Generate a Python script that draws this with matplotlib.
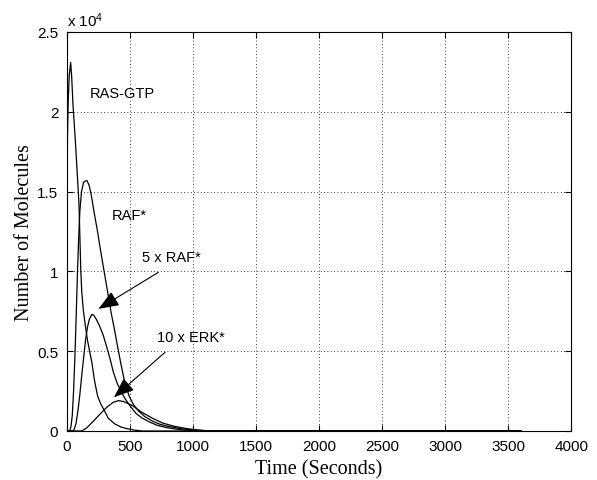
import matplotlib
matplotlib.use("Agg")
import matplotlib.pyplot as plt
import numpy as np

plt.rcParams['mathtext.default'] = 'regular'

# ---- data (molecules in units of 1e4) ----
ras_t = [0, 2, 4, 7, 12, 20, 32, 40, 50, 60, 72, 85, 98, 105, 112, 120, 132, 148, 165, 182,
         200, 220, 245, 270, 291, 330, 380, 430, 476, 540, 600, 3600]
ras_v = [0, 0.9, 1.5, 1.85, 2.05, 2.22, 2.31, 2.22, 2.05, 1.93, 1.78, 1.6, 1.42, 1.22, 1.01, 0.87,
         0.76, 0.66, 0.57, 0.5, 0.43, 0.32, 0.22, 0.17, 0.14, 0.08, 0.045, 0.025, 0.015, 0.005, 0, 0]

raf_t = [0, 25, 35, 45, 55, 65, 75, 85, 95, 105, 118, 135, 160, 178, 195, 220, 245, 267, 297,
         323, 353, 383, 400, 430, 462, 495, 530, 570, 620, 680, 740, 800, 900, 1000, 1100, 1150, 3600]
raf_v = [0, 0, 0.03, 0.1, 0.25, 0.45, 0.7, 0.97, 1.2, 1.38, 1.5, 1.56, 1.57, 1.54, 1.48, 1.36,
         1.25, 1.14, 1.0, 0.88, 0.74, 0.62, 0.545, 0.42, 0.3, 0.22, 0.165, 0.125, 0.09, 0.062,
         0.042, 0.03, 0.015, 0.007, 0.002, 0, 0]

raf5_t = [0, 50, 60, 75, 90, 105, 120, 135, 150, 165, 180, 200, 215, 235, 260, 290, 320, 345,
          370, 400, 430, 465, 500, 550, 600, 660, 720, 800, 900, 1000, 1100, 3600]
raf5_v = [0, 0, 0.01, 0.05, 0.13, 0.23, 0.35, 0.46, 0.57, 0.65, 0.7, 0.73, 0.725, 0.7, 0.66,
          0.6, 0.52, 0.45, 0.37, 0.3, 0.25, 0.2, 0.16, 0.11, 0.08, 0.055, 0.035, 0.02, 0.008,
          0.002, 0, 0]

erk_t = [0, 120, 160, 210, 270, 320, 370, 410, 450, 520, 590, 680, 760, 850, 950, 1050, 1150, 3600]
erk_v = [0, 0, 0.02, 0.06, 0.11, 0.15, 0.18, 0.19, 0.185, 0.16, 0.12, 0.08, 0.05, 0.03, 0.015,
         0.005, 0, 0]

scale = 1e4
xticks = [0, 500, 1000, 1500, 2000, 2500, 3000, 3500, 4000]
yticks = [0, 0.5, 1, 1.5, 2, 2.5]
ytick_labels = ['0', '0.5', '1', '1.5', '2', '2.5']

labels = ['RAS-GTP', 'RAF*', '5 x RAF*', '10 x ERK*']
label_pos = [(185, 2.12), (357, 1.353), (595, 1.093), (714, 0.592)]
arrow_tips = [(252, 0.765), (375, 0.211)]
arrow_starts = [(727, 0.994), (780, 0.493)]

# ---- figure ----
fig = plt.figure(figsize=(5.97, 4.81), dpi=100)
ax = fig.add_axes([0.1116, 0.1019, 0.8456, 0.8295])

for t, v in [(ras_t, ras_v), (raf_t, raf_v), (raf5_t, raf5_v), (erk_t, erk_v)]:
    ax.plot(t, np.array(v) * scale, color='black', lw=0.9)

ax.set_xlim(0, 4000)
ax.set_ylim(0, 2.5 * scale)
ax.set_xticks(xticks)
ax.set_yticks([y * scale for y in yticks])
ax.set_yticklabels(ytick_labels)
ax.grid(True, color='black', linestyle=(0, (1, 3)), lw=0.6)
ax.tick_params(direction='in', top=True, right=True, length=4, width=0.8,
               labelsize=11, pad=6)
for lab in ax.get_xticklabels() + ax.get_yticklabels():
    lab.set_fontfamily('Liberation Sans')
for s in ax.spines.values():
    s.set_linewidth(0.8)

ax.set_xlabel('Time (Seconds)', fontfamily='Liberation Serif', fontsize=14.5, labelpad=4)
ax.set_ylabel('Number of Molecules', fontfamily='Liberation Serif', fontsize=14.5, labelpad=2)

ax.text(0.0, 1.008, r'x 10$^{4}$', transform=ax.transAxes, ha='left', va='bottom',
        fontfamily='Liberation Sans', fontsize=11)

for lab, (x, y) in zip(labels, label_pos):
    ax.text(x, y * scale, lab, ha='left', va='center', fontfamily='Liberation Sans', fontsize=10.5)

for (tx, ty), (sx, sy) in zip(arrow_tips, arrow_starts):
    ax.annotate('', xy=(tx, ty * scale), xytext=(sx, sy * scale),
                arrowprops=dict(arrowstyle='-|>,head_length=0.9,head_width=0.35',
                                color='black', lw=0.8, mutation_scale=14,
                                shrinkA=0, shrinkB=0))

fig.savefig('out.png', dpi=100)
